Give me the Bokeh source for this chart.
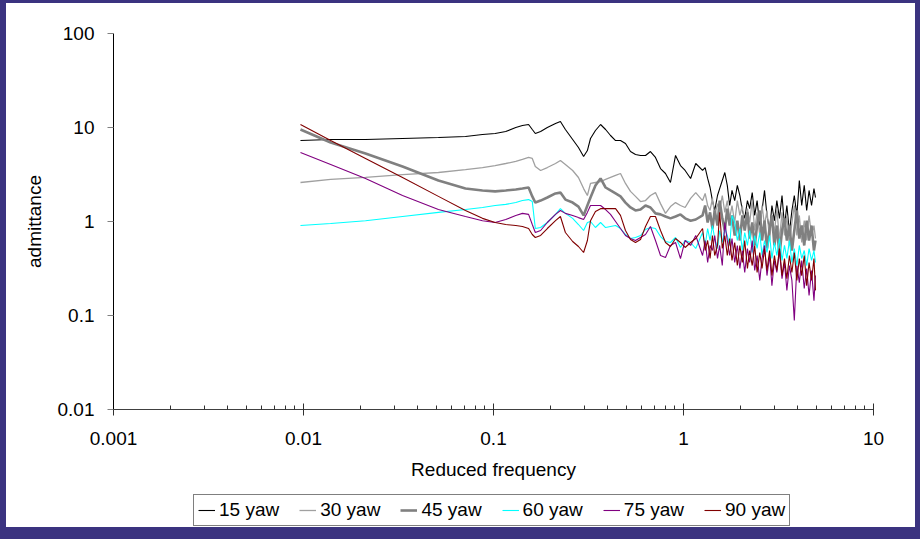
from bokeh.plotting import figure
from bokeh.layouts import column
from bokeh.models import Legend, LegendItem, FixedTicker, CustomJSTickFormatter
from bokeh.embed import file_html
from bokeh.resources import INLINE

# Reduced frequency (shared by all series)
freq = [0.00964, 0.0139, 0.0212, 0.0332, 0.0513, 0.0712, 0.0875, 0.102, 0.116, 0.131,
        0.142, 0.153, 0.160, 0.166, 0.177, 0.192, 0.212, 0.225, 0.239, 0.261,
        0.280, 0.298, 0.312, 0.324, 0.344, 0.366, 0.389, 0.413, 0.439, 0.466,
        0.495, 0.526, 0.559, 0.594, 0.631, 0.670, 0.712, 0.757, 0.804, 0.854,
        0.908, 0.964, 1.02, 1.09, 1.16,
        1.26, 1.30, 1.34, 1.38, 1.42, 1.46, 1.51, 1.55, 1.60, 1.65,
        1.70, 1.75, 1.80, 1.86, 1.92, 1.98, 2.04, 2.10, 2.17, 2.23,
        2.30, 2.37, 2.44, 2.52, 2.59, 2.67, 2.75, 2.84, 2.92, 3.01,
        3.10, 3.20, 3.30, 3.40, 3.50, 3.61, 3.72, 3.83, 3.95, 4.07,
        4.19, 4.32, 4.45, 4.58, 4.72, 4.86, 4.95]

yaw15 = [7.27, 7.45, 7.45, 7.64, 7.83, 8.02, 8.42, 8.64, 9.07, 10.0,
         10.5, 10.76, 9.52, 8.64, 9.07, 10.0, 11.03, 11.58, 9.52, 7.45,
         6.13, 4.92, 5.69, 7.64, 9.29, 10.76, 9.52, 8.22, 7.27, 7.27,
         6.76, 5.55, 5.17, 5.04, 5.04, 5.55, 4.80, 3.66, 3.24, 2.60,
         5.04, 3.94, 3.49, 2.87, 4.14,
         3.49, 3.75, 2.87, 2.30, 1.67, 1.31, 1.89, 2.24, 2.73, 3.32,
         2.42, 1.48, 2.14, 1.67, 2.42, 1.89, 1.31, 1.08, 1.67, 1.37,
         2.03, 1.16, 1.67, 0.906, 1.31, 2.14, 1.16, 0.802, 1.48, 1.02,
         1.67, 1.08, 1.89, 0.906, 1.48, 0.764, 1.31, 1.89, 1.16, 2.73,
         1.48, 2.42, 1.31, 2.14, 1.48, 2.24, 1.80]

yaw30 = [2.60, 2.80, 2.94, 3.16, 3.32, 3.57, 3.75, 3.94, 4.14, 4.35,
         4.57, 4.80, 4.68, 3.85, 3.49, 3.75, 4.14, 4.46, 4.04, 3.49,
         2.94, 2.24, 1.89, 2.54, 2.60, 2.66, 2.80, 2.94, 3.09, 3.24,
         2.54, 2.09, 1.85, 1.63, 1.67, 1.89, 2.03, 1.55, 1.22, 1.44,
         1.59, 1.48, 1.41, 1.76, 2.03,
         1.67, 1.99, 1.48, 1.31, 1.76, 1.16, 1.55, 1.31, 1.89, 1.25,
         1.67, 1.08, 1.48, 0.976, 1.67, 1.16, 1.48, 0.842, 1.37, 0.976,
         1.67, 0.802, 1.25, 0.710, 1.48, 0.906, 1.31, 0.628, 1.16, 0.764,
         1.37, 0.628, 1.25, 0.710, 1.16, 0.556, 0.976, 1.48, 0.710, 1.16,
         0.598, 1.02, 0.628, 1.16, 0.710, 0.906, 0.659]

yaw45 = [9.52, 6.92, 5.29, 3.85, 2.73, 2.24, 2.14, 2.09, 2.14, 2.19,
         2.24, 2.30, 1.85, 1.59, 1.67, 1.80, 1.99, 2.03, 1.71, 1.59,
         1.44, 1.16, 1.48, 1.80, 2.42, 2.87, 2.30, 2.14, 1.99, 1.85,
         1.59, 1.41, 1.31, 1.34, 1.48, 1.41, 1.22, 1.19, 1.13, 1.08,
         1.13, 1.19, 1.08, 1.02, 1.05,
         1.16, 1.48, 0.976, 1.25, 0.842, 1.31, 0.906, 1.67, 1.08, 0.802,
         1.37, 0.906, 1.16, 0.710, 1.02, 0.628, 1.16, 0.802, 1.25, 0.659,
         0.976, 0.556, 0.906, 1.31, 0.628, 1.02, 0.516, 0.842, 1.16, 0.556,
         0.906, 0.435, 0.802, 1.08, 0.628, 0.906, 0.491, 0.802, 1.31, 0.659,
         0.906, 0.556, 1.02, 0.628, 0.906, 0.491, 0.628]

yaw60 = [0.906, 0.953, 1.02, 1.13, 1.25, 1.34, 1.41, 1.48, 1.52, 1.59,
         1.67, 1.71, 1.63, 0.842, 0.863, 0.976, 1.19, 1.37, 1.22, 1.08,
         0.929, 0.802, 0.976, 1.0, 0.863, 0.976, 0.863, 0.885, 0.906, 0.842,
         0.727, 0.659, 0.676, 0.710, 0.822, 0.863, 0.842, 0.692, 0.613, 0.598,
         0.676, 0.529, 0.628, 0.598, 0.516,
         0.764, 0.556, 0.842, 0.628, 0.906, 0.659, 0.516, 0.802, 0.598, 0.842,
         0.710, 0.556, 1.16, 0.976, 0.628, 0.842, 0.491, 0.764, 0.556, 0.802,
         0.468, 0.710, 0.516, 0.764, 0.435, 0.628, 0.468, 0.710, 0.404, 0.598,
         0.435, 0.659, 0.385, 0.556, 0.404, 0.628, 0.366, 0.516, 0.340, 0.556,
         0.404, 0.491, 0.340, 0.516, 0.385, 0.491, 0.366]

yaw75 = [5.42, 4.04, 2.87, 1.89, 1.34, 1.13, 1.02, 0.976, 1.05, 1.16,
         1.22, 1.19, 0.929, 0.764, 0.802, 0.976, 1.19, 1.31, 1.22, 1.16,
         1.10, 1.05, 1.25, 1.48, 1.48, 1.48, 1.34, 1.19, 1.0, 0.842,
         0.710, 0.659, 0.628, 0.676, 0.727, 0.885, 0.628, 0.435, 0.414, 0.556,
         0.598, 0.404, 0.628, 0.556, 0.710,
         0.435, 0.628, 0.366, 0.556, 0.491, 0.710, 0.404, 0.556, 0.340, 0.976,
         0.628, 0.435, 0.659, 0.366, 0.556, 0.316, 0.491, 0.287, 0.516, 0.366,
         0.628, 0.301, 0.435, 0.236, 0.404, 0.556, 0.266, 0.435, 0.208, 0.385,
         0.287, 0.491, 0.247, 0.366, 0.185, 0.340, 0.236, 0.0885, 0.340, 0.224,
         0.385, 0.194, 0.316, 0.163, 0.301, 0.144, 0.266]

yaw90 = [10.76, 7.27, 4.68, 2.94, 1.85, 1.31, 1.08, 0.976, 0.929, 0.906,
         0.885, 0.842, 0.727, 0.676, 0.710, 0.842, 1.02, 1.13, 0.764, 0.613,
         0.542, 0.468, 0.628, 1.02, 1.28, 1.37, 1.37, 1.37, 1.37, 1.16,
         0.802, 0.643, 0.598, 0.643, 0.885, 1.13, 1.13, 0.802, 0.598, 0.542,
         0.659, 0.598, 0.529, 0.598, 0.659,
         0.842, 0.491, 0.628, 0.404, 0.710, 0.435, 0.556, 1.25, 0.516, 0.710,
         0.435, 0.659, 0.385, 0.598, 0.340, 0.556, 0.366, 0.628, 0.316, 0.491,
         0.340, 0.556, 0.287, 0.468, 0.316, 0.516, 0.301, 0.491, 0.266, 0.435,
         0.301, 0.516, 0.266, 0.404, 0.247, 0.435, 0.287, 0.468, 0.236, 0.404,
         0.266, 0.435, 0.208, 0.366, 0.236, 0.404, 0.185]

labels = ["15 yaw", "30 yaw", "45 yaw", "60 yaw", "75 yaw", "90 yaw"]
series = [yaw15, yaw30, yaw45, yaw60, yaw75, yaw90]
colors = ["#000000", "#a0a0a0", "#808080", "#00ffff", "#800080", "#800000"]
widths = [1.1, 1.3, 2.6, 1.1, 1.1, 1.1]

x_ticks = [0.001, 0.01, 0.1, 1, 10]
y_ticks = [0.01, 0.1, 1, 10, 100]

FONT = "Liberation Sans"

# ---- main chart ----
p = figure(width=909, height=489, x_axis_type="log", y_axis_type="log",
           x_range=(0.001, 10), y_range=(0.01, 100),
           output_backend="svg", toolbar_location=None,
           min_border_left=107, min_border_right=42,
           min_border_top=30, min_border_bottom=83)
p.outline_line_color = None
p.outline_line_alpha = 0
p.outline_line_width = 0
p.grid.visible = False
p.background_fill_color = "white"
p.border_fill_color = "white"

x_minor = [m * d for d in x_ticks[:-1] for m in range(2, 10)]
p.xaxis.ticker = FixedTicker(ticks=x_ticks, minor_ticks=x_minor)
p.yaxis.ticker = FixedTicker(ticks=y_ticks, minor_ticks=[])
p.xaxis.formatter = CustomJSTickFormatter(code="return tick.toString();")
p.yaxis.formatter = CustomJSTickFormatter(code="return tick.toString();")

for ax in (p.xaxis, p.yaxis):
    ax.major_label_text_font = FONT
    ax.major_label_text_font_size = "19px"
    ax.major_label_text_color = "#000000"
    ax.axis_label_text_font = FONT
    ax.axis_label_text_font_size = "19px"
    ax.axis_label_text_font_style = "normal"
    ax.axis_label_text_color = "#000000"
    ax.axis_line_color = "#000000"

p.xaxis.axis_label = "Reduced frequency"
p.yaxis.axis_label = "admittance"

p.xaxis.major_tick_in = 6
p.xaxis.major_tick_out = 6
p.xaxis.minor_tick_in = 4
p.xaxis.minor_tick_out = 0
p.xaxis.major_tick_line_color = "#303030"
p.xaxis.minor_tick_line_color = "#303030"
p.xaxis.axis_line_color = "#404040"
p.xaxis.major_label_standoff = 16
p.xaxis.axis_label_standoff = 11

p.yaxis.major_tick_in = 0
p.yaxis.major_tick_out = 6
p.yaxis.minor_tick_in = 0
p.yaxis.minor_tick_out = 0
p.yaxis.major_tick_line_color = "#808080"
p.yaxis.major_label_standoff = 13
p.yaxis.axis_label_standoff = 10

for ys, c, w in zip(series, colors, widths):
    p.line(freq, ys, line_color=c, line_width=w)

# ---- legend strip: a second small figure under the chart ----
# its ranges lie far outside the data, so its copies of the lines stay hidden
lg = figure(width=909, height=35, output_backend="svg", toolbar_location=None,
            min_border=0, x_range=(100, 101), y_range=(100, 101))
lg.axis.visible = False
lg.grid.visible = False
lg.outline_line_color = None
lg.outline_line_alpha = 0
lg.outline_line_width = 0
lg.background_fill_color = "white"
lg.border_fill_color = "white"
try:
    lg.frame_align = False
    p.frame_align = False
except Exception:
    pass

items = []
for lab, ys, c, w in zip(labels, series, colors, widths):
    r = lg.line(freq, ys, line_color=c, line_width=w)
    items.append(LegendItem(label=lab, renderers=[r]))

legend = Legend(items=items, orientation="horizontal", location=(187, 1),
                label_text_font=FONT, label_text_font_size="19px",
                label_text_color="#000000",
                glyph_width=17, glyph_height=20, label_standoff=4,
                spacing=20, padding=4, margin=0,
                border_line_color="#000000", border_line_width=1,
                background_fill_color="white", background_fill_alpha=1.0)
lg.add_layout(legend)

layout = column(p, lg, spacing=0)

html = file_html(layout, INLINE)
style = ("<style>html { background-color: #3b3380 !important; height: 100% !important; } "
         "body { background-color: #ffffff !important; margin: 3px 0 0 6px !important; "
         "padding: 0 !important; width: 909px !important; height: 524px !important; "
         "overflow: hidden !important; }</style>")
html = html.replace("</head>", style + "</head>", 1)
open("out.html", "w").write(html)
